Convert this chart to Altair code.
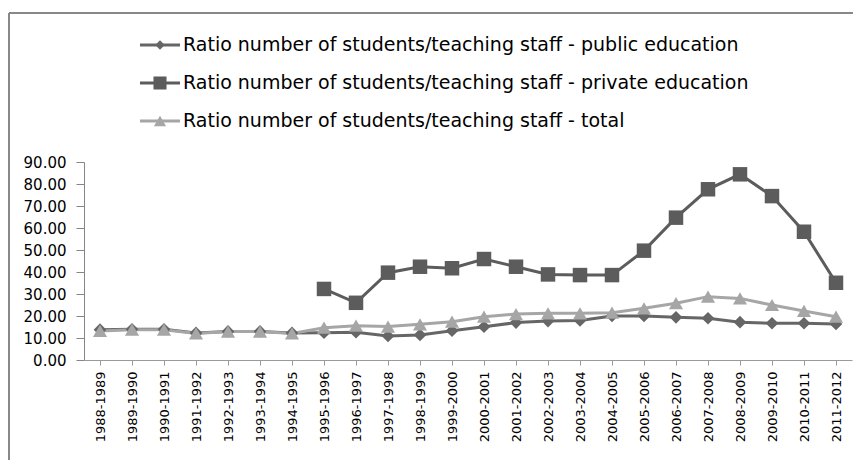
import altair as alt
import pandas as pd

periods = ["1988-1989", "1989-1990", "1990-1991", "1991-1992", "1992-1993", "1993-1994",
           "1994-1995", "1995-1996", "1996-1997", "1997-1998", "1998-1999", "1999-2000",
           "2000-2001", "2001-2002", "2002-2003", "2003-2004", "2004-2005", "2005-2006",
           "2006-2007", "2007-2008", "2008-2009", "2009-2010", "2010-2011", "2011-2012"]

public = [13.8, 14.0, 14.0, 12.3, 13.0, 13.0, 12.3, 12.4, 12.6, 10.9, 11.4, 13.3,
          15.1, 17.0, 17.7, 18.0, 20.0, 20.0, 19.4, 19.0, 17.2, 16.7, 16.7, 16.4]
private = [None, None, None, None, None, None, None, 32.3, 26.0, 39.7, 42.4, 41.7,
           45.9, 42.4, 38.9, 38.6, 38.6, 49.7, 64.7, 77.6, 84.4, 74.5, 58.3, 35.1]
total = [13.2, 13.8, 13.8, 12.1, 12.9, 12.9, 12.1, 14.7, 15.6, 15.2, 16.2, 17.4,
         19.7, 20.9, 21.2, 21.2, 21.5, 23.5, 25.8, 28.8, 28.0, 25.0, 22.3, 19.7]

series_names = [
    "Ratio number of students/teaching staff - public education",
    "Ratio number of students/teaching staff - private education",
    "Ratio number of students/teaching staff - total",
]
colors = ["#666666", "#5c5c5c", "#a6a6a6"]
y_ticks = [0, 10, 20, 30, 40, 50, 60, 70, 80, 90]

rows = []
for name, vals in zip(series_names, [public, private, total]):
    for p, v in zip(periods, vals):
        if v is not None:
            rows.append({"period": p, "series": name, "value": v})
df = pd.DataFrame(rows)
legend_df = pd.DataFrame({"series": series_names})

FONT = "DejaVu Sans"
W, H = 768, 198

x_enc = alt.X("period:N", sort=periods, title=None,
              scale=alt.Scale(paddingInner=0, paddingOuter=0),
              axis=alt.Axis(labelAngle=270, labelFont=FONT, labelFontSize=13,
                            labelColor="#000000", labelPadding=6, tickSize=5,
                            bandPosition=0, tickColor="#9a9a9a", domainColor="#9a9a9a",
                            grid=False))
y_enc = alt.Y("value:Q", title=None,
              scale=alt.Scale(domain=[0, 90], nice=False, zero=True),
              axis=alt.Axis(values=y_ticks, format=".2f", labelFont=FONT, labelFontSize=15,
                            labelColor="#000000", labelPadding=10, tickSize=8,
                            tickColor="#868686", domainColor="#868686", grid=False))

color_scale = alt.Scale(domain=series_names, range=colors)

lines = alt.Chart(df).mark_line(strokeWidth=3).encode(
    x=x_enc, y=y_enc,
    color=alt.Color("series:N", scale=color_scale, legend=None),
)

shapes = ["diamond", "square", "triangle-up"]
sizes = [160, 210, 200]
legend_sizes = [90, 170, 150]
point_layers = []
for name, col, shp, sz in zip(series_names, colors, shapes, sizes):
    point_layers.append(
        alt.Chart(df).transform_filter(alt.datum.series == name)
        .mark_point(filled=True, opacity=1, shape=shp, size=sz, color=col)
        .encode(x=x_enc, y=y_enc)
    )

main = alt.layer(lines, *point_layers)

# legend drawn above the plot, rows placed by a point scale
ly = alt.Y("series:N", sort=series_names, axis=None,
           scale=alt.Scale(type="point", domain=series_names, range=[-117, -41], padding=0))
legend_lines = alt.Chart(legend_df).mark_rule(strokeWidth=3).encode(
    x=alt.value(56), x2=alt.value(96), y=ly,
    color=alt.Color("series:N", scale=color_scale, legend=None),
)
legend_points = []
for name, col, shp, sz in zip(series_names, colors, shapes, legend_sizes):
    legend_points.append(
        alt.Chart(legend_df).transform_filter(alt.datum.series == name)
        .mark_point(filled=True, opacity=1, shape=shp, size=sz, color=col)
        .encode(x=alt.value(76), y=ly)
    )
legend_text = alt.Chart(legend_df).mark_text(
    align="left", baseline="middle", font=FONT, fontSize=19, color="#000000"
).encode(x=alt.value(99), y=ly, text="series:N")
legend = alt.layer(legend_lines, *legend_points, legend_text)

one = alt.Data(values=[{"k": 1}])
frame_left = alt.Chart(one).mark_rule(color="#888888", strokeWidth=2).encode(
    x=alt.value(-75), y=alt.value(-149), y2=alt.value(300))
frame_top = alt.Chart(one).mark_rule(color="#888888", strokeWidth=2).encode(
    x=alt.value(-75), x2=alt.value(770), y=alt.value(-149))

chart = alt.layer(
    frame_left, frame_top, main, legend
).resolve_scale(
    y="independent"
).properties(
    width=W, height=H,
    padding={"left": 76, "top": 154, "right": 1, "bottom": 100},
    autosize=alt.AutoSizeParams(type="none"),
).configure(background="white").configure_view(stroke=None)

chart.save("out.html", embed_options={"renderer": "svg", "actions": False})
